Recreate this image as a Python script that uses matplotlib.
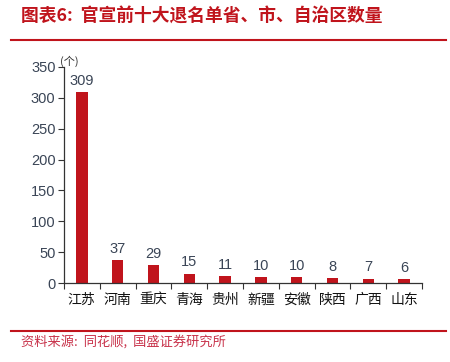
import matplotlib
matplotlib.use("Agg")
import matplotlib.pyplot as plt
from matplotlib.lines import Line2D

plt.rcParams['font.family'] = ['Noto Sans CJK SC', 'DejaVu Sans']

categories = ["江苏", "河南", "重庆", "青海", "贵州", "新疆", "安徽", "陕西", "广西", "山东"]
values = [309, 37, 29, 15, 11, 10, 10, 8, 7, 6]
yticks = [0, 50, 100, 150, 200, 250, 300, 350]

red = "#C0141C"
num_color = "#3A4556"
num_font = ["Liberation Sans", "DejaVu Sans"]

fig = plt.figure(figsize=(4.5, 3.62), dpi=100)
ax = fig.add_axes([0.142, 0.218, 0.796, 0.597])

x = list(range(len(categories)))
ax.bar(x, values, width=0.32, color=red, zorder=2)
for xi, v in zip(x, values):
    ax.text(xi, v + 7, str(v), ha="center", va="bottom", fontsize=10.5,
            color=num_color, family=num_font)

ax.set_xlim(-0.5, len(categories) - 0.5)
ax.set_ylim(0, 350)
ax.set_yticks(yticks)
ax.set_yticklabels([str(t) for t in yticks], fontsize=10.5, color=num_color, family=num_font)
ax.set_xticks(x)
ax.set_xticklabels(categories, fontsize=10, color="#111111")
ax.tick_params(axis="x", length=0, pad=7)
ax.tick_params(axis="y", length=4, width=0.8, color="#333333", direction="out", pad=2)
ax.set_xticks([i - 0.5 for i in range(len(categories) + 1)], minor=True)
ax.tick_params(axis="x", which="minor", length=4, width=0.8, color="#333333", direction="out")

for s in ["top", "right"]:
    ax.spines[s].set_visible(False)
for s in ["left", "bottom"]:
    ax.spines[s].set_color("#333333")
    ax.spines[s].set_linewidth(0.9)

ax.text(-0.01, 1.0, "(个)", transform=ax.transAxes, fontsize=8, color="#333333",
        ha="left", va="bottom")

fig.text(0.047, 0.953, "图表6:  官宣前十大退名单省、市、自治区数量", fontsize=12.8, color=red,
         fontweight="bold", style="italic", ha="left", va="center")
fig.add_artist(Line2D([0.024, 0.99], [0.889, 0.889], color=red, linewidth=1.5))
fig.add_artist(Line2D([0.024, 0.99], [0.086, 0.086], color=red, linewidth=1.5))
fig.text(0.047, 0.055, "资料来源:  同花顺,  国盛证券研究所", fontsize=9.5, color="#C8324A",
         style="italic", ha="left", va="center")

fig.savefig("out.png", dpi=100)
